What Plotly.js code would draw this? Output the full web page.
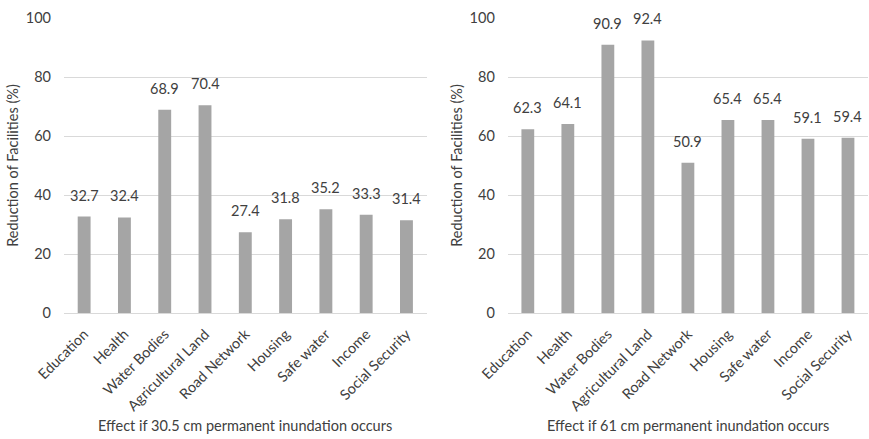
<!DOCTYPE html>
<html>
<head>
<meta charset="utf-8">
<script src="https://cdn.plot.ly/plotly-3.0.1.min.js"></script>
<style>
  html, body { margin: 0; padding: 0; background: #fff; }
  #chart { width: 869px; height: 439px; }
</style>
</head>
<body>
<div id="chart"></div>
<script>
// Facility categories shared by both panels
const categories = ["Education", "Health", "Water Bodies", "Agricultural Land", "Road Network",
                    "Housing", "Safe water", "Income", "Social Security"];

// Reduction of facilities (%) for each inundation depth
const reduction305 = [32.7, 32.4, 68.9, 70.4, 27.4, 31.8, 35.2, 33.3, 31.4];
const reduction61  = [62.3, 64.1, 90.9, 92.4, 50.9, 65.4, 65.4, 59.1, 59.4];

const yTicks = [0, 20, 40, 60, 80, 100];
const panelTitles = ["Effect if 30.5 cm permanent inundation occurs",
                     "Effect if 61 cm permanent inundation occurs"];
const yTitle = "Reduction of Facilities (%)";

const FONT = "Lato, 'Open Sans', sans-serif";
const TXT = "#404040";
const BAR = "#a5a5a5";
const GRID = "#d9d9d9";
const FS = 14.5;

function barTrace(vals, xa, ya) {
  return {
    type: "bar", x: categories, y: vals, xaxis: xa, yaxis: ya,
    marker: { color: BAR }, hoverinfo: "x+y", showlegend: false
  };
}

function labelAnnotations(vals, xa, ya) {
  return vals.map((v, i) => ({
    x: categories[i], y: v, xref: xa, yref: ya,
    text: v.toFixed(1), showarrow: false, yanchor: "bottom", yshift: 11,
    font: { family: FONT, size: FS, color: TXT }
  }));
}

function yAxis(extra) {
  return Object.assign({
    range: [0, 100], tickvals: yTicks, ticktext: yTicks.map(String),
    showgrid: true, gridcolor: GRID, gridwidth: 1,
    zeroline: true, zerolinecolor: GRID, zerolinewidth: 1,
    showline: false, ticks: "", ticklabelstandoff: 12,
    tickfont: { family: FONT, size: FS, color: TXT },
    title: { text: yTitle, font: { family: FONT, size: FS, color: TXT }, standoff: 3 },
    fixedrange: true
  }, extra);
}

function xAxis(extra) {
  return Object.assign({
    type: "category", tickangle: -45, showline: false, showgrid: false, ticks: "",
    ticklabelstandoff: 9,
    tickfont: { family: FONT, size: FS, color: TXT }, fixedrange: true
  }, extra);
}

const data = [
  barTrace(reduction305, "x", "y"),
  barTrace(reduction61, "x2", "y2")
];

// Panel captions centred under each plot area
const xDomains = [[0, 0.451], [0.552, 1]];
const captions = panelTitles.map((t, i) => ({
  text: t, xref: "paper", yref: "paper",
  x: (xDomains[i][0] + xDomains[i][1]) / 2, y: -0.38,
  showarrow: false, xanchor: "center", yanchor: "middle",
  font: { family: FONT, size: FS, color: TXT }
}));

const annotations = labelAnnotations(reduction305, "x", "y")
  .concat(labelAnnotations(reduction61, "x2", "y2"))
  .concat(captions);

const layout = {
  width: 869, height: 439,
  margin: { l: 64, r: 1, t: 18, b: 126 },
  paper_bgcolor: "#fff", plot_bgcolor: "#fff",
  bargap: 0.68,
  xaxis: xAxis({ domain: xDomains[0], anchor: "y" }),
  yaxis: yAxis({ anchor: "x" }),
  xaxis2: xAxis({ domain: xDomains[1], anchor: "y2" }),
  yaxis2: yAxis({ anchor: "x2" }),
  annotations: annotations,
  font: { family: FONT, color: TXT }
};

Plotly.newPlot("chart", data, layout, { displayModeBar: false, staticPlot: true });
</script>
</body>
</html>
